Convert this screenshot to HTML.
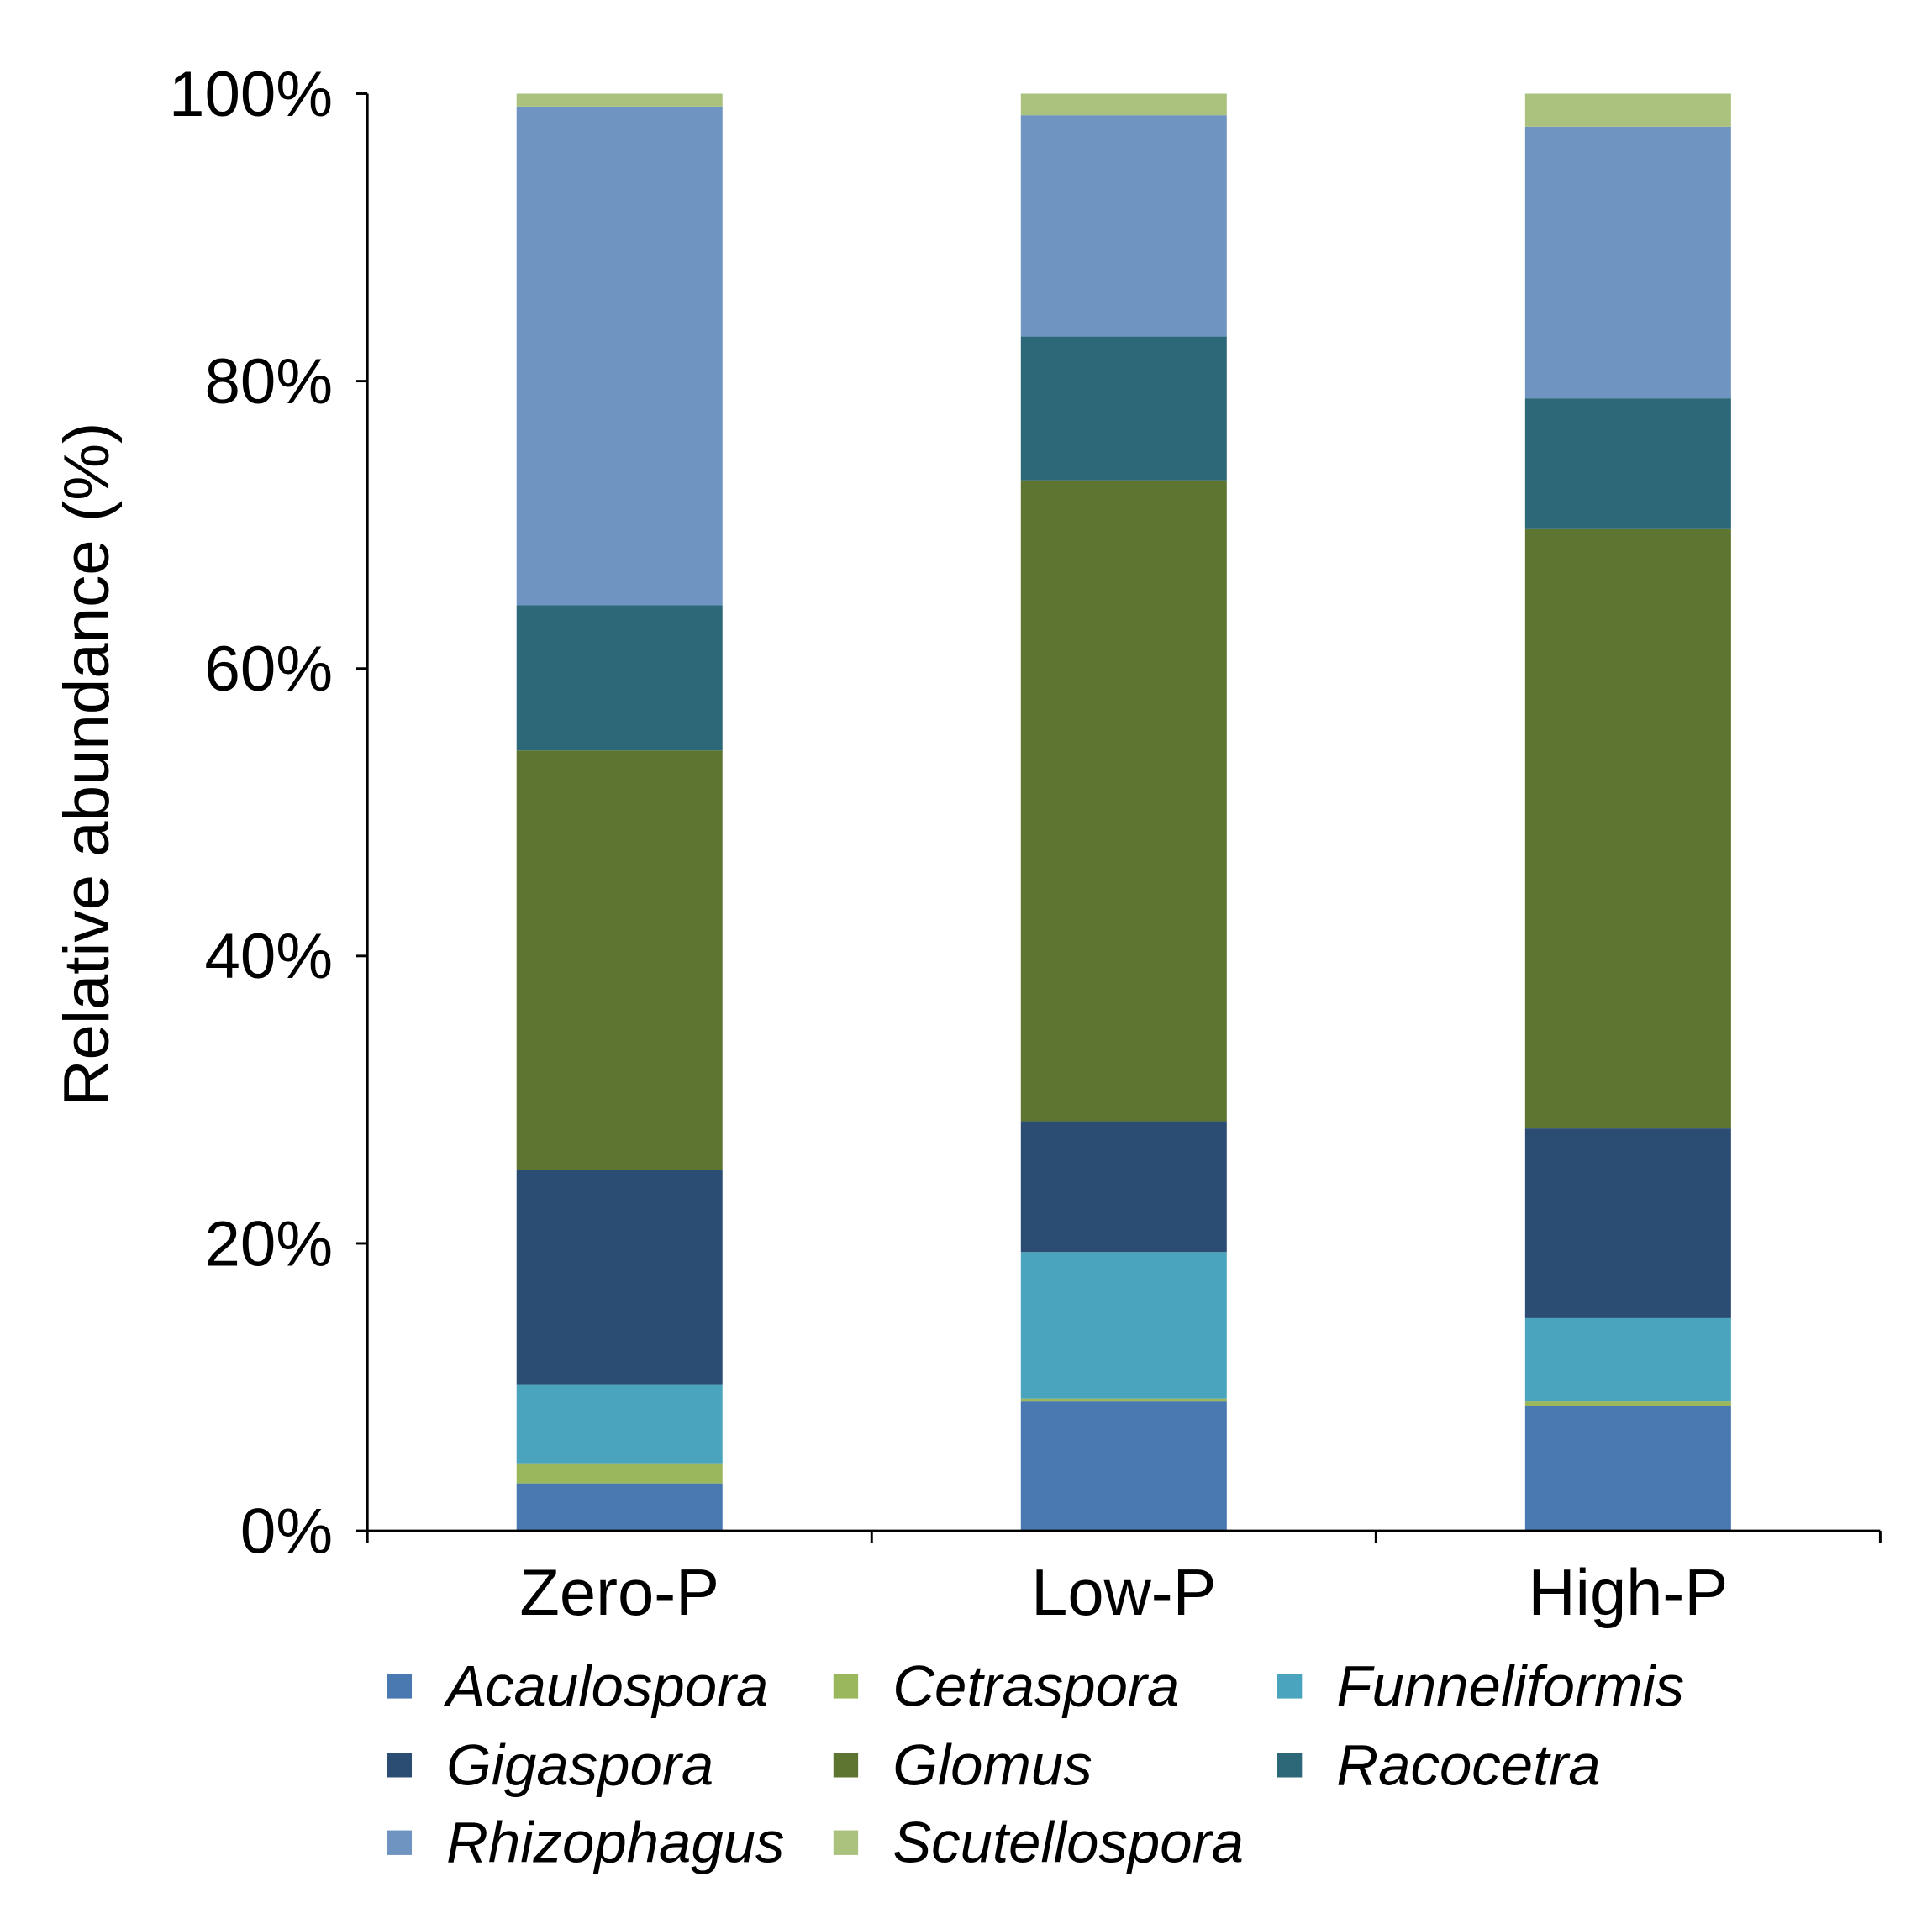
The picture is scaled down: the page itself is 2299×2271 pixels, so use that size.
<!DOCTYPE html>
<html><head><meta charset="utf-8"><style>
html,body{margin:0;padding:0;background:#fff}
svg{display:block}
text{font-family:"Liberation Sans",Arial,sans-serif;fill:#000}
</style></head><body>
<svg id="chart" width="2299" height="2271" viewBox="0 0 1567 1548" preserveAspectRatio="none" xmlns="http://www.w3.org/2000/svg">
<g id="bars"></g>
<g id="axes"></g>
<g id="legend"></g>
<text transform="translate(88,620) rotate(-90)" text-anchor="middle" font-size="52">Relative abundance (%)</text>
</svg>
<script>
const categories = ["Zero-P","Low-P","High-P"];
const seriesNames = ["Acaulospora","Cetraspora","Funneliformis","Gigaspora","Glomus","Racocetra","Rhizophagus","Scutellospora"];
const acaulospora = [3.3, 9.0, 8.7];
const cetraspora = [1.4, 0.2, 0.3];
const funneliformis = [5.5, 10.2, 5.8];
const gigaspora = [14.9, 9.1, 13.2];
const glomus = [29.2, 44.6, 41.7];
const racocetra = [10.1, 10.0, 9.1];
const rhizophagus = [34.7, 15.4, 18.9];
const scutellospora = [0.9, 1.5, 2.3];
const yTicks = [0,20,40,60,80,100];
const yTickLabels = ["0%","20%","40%","60%","80%","100%"];
const legendOrder = ["Acaulospora","Cetraspora","Funneliformis","Gigaspora","Glomus","Racocetra","Rhizophagus","Scutellospora"];

const series = [acaulospora,cetraspora,funneliformis,gigaspora,glomus,racocetra,rhizophagus,scutellospora];
const colors = ["#4a78b0","#9bb75c","#4ba4bd","#2c4d73","#5e7431","#2c6878","#6f94c2","#aac27d"];
const NS="http://www.w3.org/2000/svg";
const X0=298,X1=1525,Y0=1242,Y1=76,BW=167;
const band=(X1-X0)/categories.length;
const yS=v=>Y0-(v/100)*(Y0-Y1);
const xC=i=>X0+band*(i+0.5);
function mk(tag,attrs,parent){const e=document.createElementNS(NS,tag);for(const k in attrs)e.setAttribute(k,attrs[k]);parent.appendChild(e);return e;}
const gb=document.getElementById('bars'),ga=document.getElementById('axes'),gl=document.getElementById('legend');
categories.forEach((c,i)=>{
  let cum=0;
  series.forEach((s,j)=>{
    const y0=yS(cum),y1=yS(cum+s[i]);cum+=s[i];
    const r=mk('rect',{x:xC(i)-BW/2,y:y1,width:BW,height:y0-y1,fill:colors[j]},gb);
    
    
  });
  const t=mk('text',{x:xC(i),y:1310,'text-anchor':'middle','font-size':53},ga);
  t.textContent=c;
  
  
});
let l=mk('line',{x1:X0,y1:Y1,x2:X0,y2:Y0,stroke:'#000','stroke-width':2},ga);


l=mk('line',{x1:X0,y1:Y0,x2:X1,y2:Y0,stroke:'#000','stroke-width':2},ga);


for(let i=0;i<=categories.length;i++){
  const tk=mk('line',{x1:X0+band*i,y1:Y0,x2:X0+band*i,y2:Y0+10,stroke:'#000','stroke-width':2},ga);
  
  
}
yTicks.forEach((v,i)=>{
  const tk=mk('line',{x1:X0-9,y1:yS(v),x2:X0,y2:yS(v),stroke:'#000','stroke-width':2},ga);
  
  
  const t=mk('text',{x:270,y:yS(v)+18,'text-anchor':'end','font-size':52},ga);
  t.textContent=yTickLabels[i];
  
  
});
const colX=[314,676,1036],rowY=[1368,1432,1495];
legendOrder.forEach((n,k)=>{
  const j=seriesNames.indexOf(n);
  const cx=colX[k%3],cy=rowY[Math.floor(k/3)];
  const g=mk('g',{},gl);
  
  
  mk('rect',{x:cx,y:cy-10,width:20,height:20,fill:colors[j]},g);
  const t=mk('text',{x:cx+48,y:cy+16,'font-size':47,'font-style':'italic'},g);
  t.textContent=n;
});
</script>
</body></html>
